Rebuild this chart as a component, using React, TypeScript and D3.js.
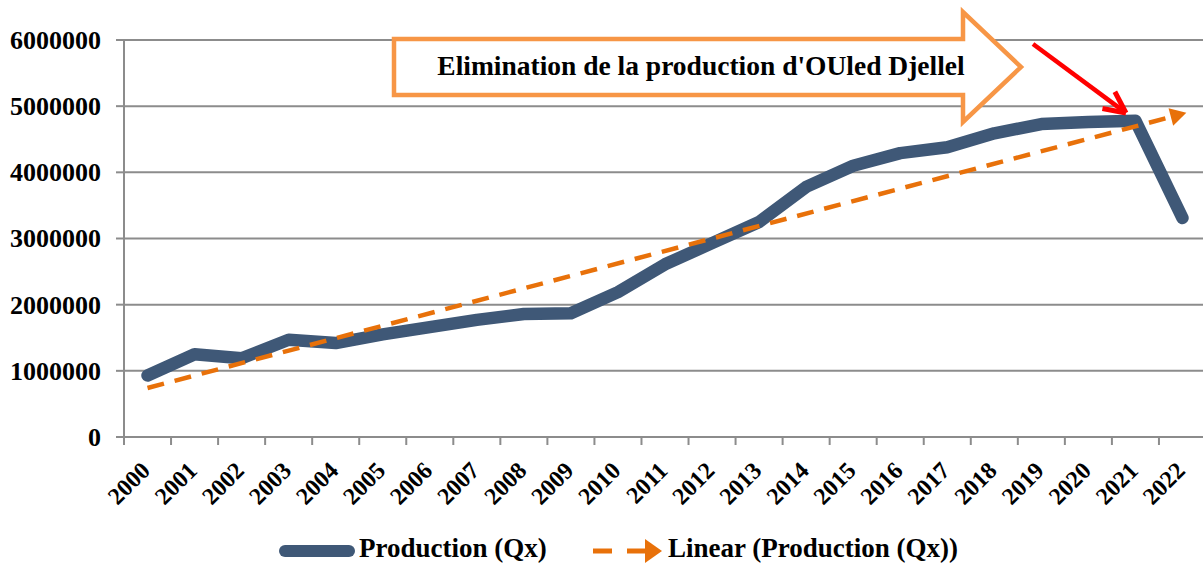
import React from "react";
import * as d3 from "d3";

const years = ["2000","2001","2002","2003","2004","2005","2006","2007","2008","2009","2010","2011","2012","2013","2014","2015","2016","2017","2018","2019","2020","2021","2022"];
const production = [930000,1250000,1190000,1470000,1420000,1550000,1660000,1770000,1860000,1870000,2190000,2610000,2930000,3250000,3780000,4100000,4290000,4380000,4590000,4730000,4760000,4780000,3310000];
const yTicks = [0,1000000,2000000,3000000,4000000,5000000,6000000];
const annotationText = "Elimination de la production d'OUled Djellel";
const legendLabels = ["Production (Qx)", "Linear (Production (Qx))"];

const W = 1203, H = 567;
const left = 124, right = 1206, top = 40, bottom = 437;
const LINE = "#3F5877";
const ORANGE = "#E8710A";
const GRID = "#8c8c8c";
const FONT = "'Liberation Serif', 'Times New Roman', serif";

export default function App() {
  const x = d3.scaleBand<string>().domain(years).range([left, right]).padding(0);
  const y = d3.scaleLinear().domain([0, 6000000]).range([bottom, top]);
  const cx = (d: string) => (x(d) as number) + x.bandwidth() / 2;

  const line = d3.line<number>().x((_, i) => cx(years[i])).y((v) => y(v));

  // linear trendline (least squares)
  const n = production.length;
  const xs = production.map((_, i) => i + 1);
  const mx = d3.mean(xs) as number;
  const my = d3.mean(production) as number;
  let num = 0, den = 0;
  xs.forEach((xi, i) => { num += (xi - mx) * (production[i] - my); den += (xi - mx) ** 2; });
  const slope = num / den;
  const icpt = my - slope * mx;
  const t0 = { x: cx(years[0]), y: y(icpt + slope * 1) };
  const t1 = { x: cx(years[n - 1]), y: y(icpt + slope * n) };
  const ang = Math.atan2(t1.y - t0.y, t1.x - t0.x);
  const tipLen = 16;
  const tEnd = { x: t1.x + Math.cos(ang) * 4, y: t1.y + Math.sin(ang) * 4 };
  const tBase = { x: tEnd.x - Math.cos(ang) * tipLen, y: tEnd.y - Math.sin(ang) * tipLen };
  const perp = ang + Math.PI / 2;
  const hw = 9;

  // red arrow
  const ra = { x1: 1033, y1: 44, x2: 1126, y2: 113 };
  const rAng = Math.atan2(ra.y2 - ra.y1, ra.x2 - ra.x1);

  return (
    <svg width={W} height={H} style={{ position: "absolute", left: 0, top: 0, background: "#fff" }}>
      {/* gridlines */}
      {yTicks.map((t) => (
        <g key={t}>
          {t > 0 && <line x1={left} x2={W} y1={y(t)} y2={y(t)} stroke={GRID} strokeWidth={2} />}
          <line x1={left - 8} x2={left} y1={y(t)} y2={y(t)} stroke={GRID} strokeWidth={2} />
          <text x={101} y={y(t)} dy="0.34em" textAnchor="end" fontFamily={FONT} fontWeight="bold" fontSize={26} fill="#000">{t}</text>
        </g>
      ))}
      {/* axes */}
      <line x1={left} x2={left} y1={top} y2={bottom + 8} stroke={GRID} strokeWidth={2} />
      <line x1={left} x2={W} y1={bottom} y2={bottom} stroke={GRID} strokeWidth={2} />
      {years.map((yr) => (
        <line key={"t" + yr} x1={x(yr) as number} x2={x(yr) as number} y1={bottom} y2={bottom + 8} stroke={GRID} strokeWidth={2} />
      ))}
      {years.map((yr) => (
        <text key={"l" + yr} transform={`translate(${cx(yr) + 4},${bottom + 35}) rotate(-45)`} textAnchor="end" fontFamily={FONT} fontWeight="bold" fontSize={24} fill="#000">{yr}</text>
      ))}

      {/* production line */}
      <path d={line(production) as string} fill="none" stroke={LINE} strokeWidth={12.5} strokeLinejoin="round" strokeLinecap="round" />

      {/* trendline */}
      <line x1={t0.x} y1={t0.y} x2={tBase.x} y2={tBase.y} stroke={ORANGE} strokeWidth={4.5} strokeDasharray="17 11" />
      <path d={`M${tEnd.x},${tEnd.y} L${tBase.x + Math.cos(perp) * hw},${tBase.y + Math.sin(perp) * hw} L${tBase.x - Math.cos(perp) * hw},${tBase.y - Math.sin(perp) * hw} Z`} fill={ORANGE} />

      {/* block arrow annotation */}
      <path d="M394,39 L963,39 L963,12 L1021,67 L963,122 L963,95 L394,95 Z" fill="#fff" stroke="#F79646" strokeWidth={4.5} strokeLinejoin="miter" />
      <text x={701} y={75} textAnchor="middle" fontFamily={FONT} fontWeight="bold" fontSize={27.5} fill="#000">{annotationText}</text>

      {/* red arrow */}
      <line x1={ra.x1} y1={ra.y1} x2={ra.x2 - Math.cos(rAng) * 6} y2={ra.y2 - Math.sin(rAng) * 6} stroke="#FF0000" strokeWidth={4.5} />
      <path d={`M${ra.x2},${ra.y2} L${ra.x2 - 24 * Math.cos(rAng - 0.45)},${ra.y2 - 24 * Math.sin(rAng - 0.45)} M${ra.x2},${ra.y2} L${ra.x2 - 24 * Math.cos(rAng + 0.45)},${ra.y2 - 24 * Math.sin(rAng + 0.45)}`} stroke="#FF0000" strokeWidth={5} fill="none" strokeLinecap="butt" />

      {/* legend */}
      <line x1={285} x2={349} y1={551} y2={551} stroke={LINE} strokeWidth={12} strokeLinecap="round" />
      <text x={359} y={557} fontFamily={FONT} fontWeight="bold" fontSize={27} fill="#000">{legendLabels[0]}</text>
      <line x1={593} x2={612} y1={551} y2={551} stroke={ORANGE} strokeWidth={5} />
      <line x1={627} x2={649} y1={551} y2={551} stroke={ORANGE} strokeWidth={5} />
      <path d="M645,539 L662,551 L645,563 Z" fill={ORANGE} />
      <text x={668} y={557} fontFamily={FONT} fontWeight="bold" fontSize={27} fill="#000">{legendLabels[1]}</text>
    </svg>
  );
}
